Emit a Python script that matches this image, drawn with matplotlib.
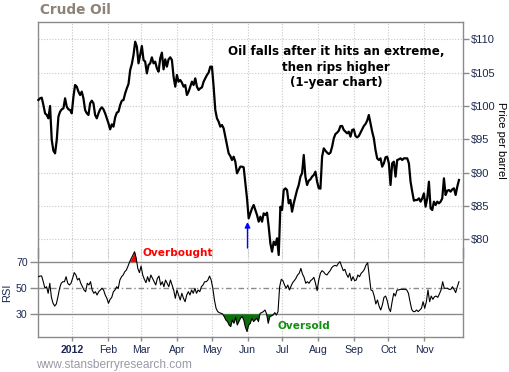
import matplotlib
matplotlib.use("Agg")
import matplotlib.pyplot as plt
import numpy as np
import pandas as pd

# ---------------- data ----------------
price = [
    100.9, 101.15, 101.25, 100.15, 98.9, 98.65, 98.15, 100.0, 94.9, 93.3, 92.9, 94.9, 98.4,
    99.15, 99.5, 99.65, 101.15, 99.9, 99.5, 99.4, 98.9, 101.4, 103.15, 102.9, 102.15, 101.65,
    102.15, 101.15, 99.4, 98.9, 98.65, 100.4, 100.8, 100.4, 98.65, 98.15, 98.9, 99.5, 99.8,
    99.5, 98.9, 98.15, 97.4, 96.5, 97.25, 96.9, 98.3, 99.0, 99.15, 100.15, 100.8, 100.9,
    101.9, 102.65, 103.3, 105.4, 106.3, 107.65, 109.65, 108.9, 106.4, 107.65, 109.0, 106.9,
    106.65, 104.9, 106.15, 106.4, 107.3, 106.4, 106.65, 105.65, 105.15, 107.15, 108.0, 105.5,
    107.0, 105.9, 107.0, 107.3, 106.9, 104.4, 102.9,
    104.65, 103.65, 103.9, 103.5, 102.9, 103.15, 101.65, 102.15, 102.9, 103.65, 103.15,
    104.15, 102.9, 102.4, 102.65, 102.8, 103.65, 104.15, 104.65, 105.0, 105.9, 105.9, 102.9,
    99.4, 98.15, 97.65, 96.9, 97.15, 96.65, 95.4, 94.15, 92.9, 92.5, 91.9, 92.4, 91.65, 89.9,
    90.4, 90.9, 90.9, 90.8, 88.4, 86.15, 83.15, 83.9, 84.65, 85.15, 84.4, 83.65, 82.65, 83.4,
    82.65, 83.9, 83.65, 84.0, 81.9, 79.4, 78.15, 79.65, 79.15, 80.15, 77.65, 84.9, 84.4, 87.4,
    87.65, 87.4, 85.4, 85.9, 84.15, 85.4, 86.4, 87.4, 88.15, 89.4, 89.9, 92.65, 89.4, 88.15,
    88.8, 89.0, 89.4, 89.65, 90.15,
    88.65, 87.65, 87.6, 92.4, 93.65, 93.3, 93.0, 92.8, 93.0, 93.9, 95.15, 95.8, 96.0, 96.3,
    97.0, 97.0, 96.4, 96.15, 95.9, 96.15, 95.4, 96.4, 96.5, 95.5, 95.3, 95.5, 96.0, 96.5,
    97.0, 97.3, 97.8, 98.65, 97.4, 96.15, 95.15, 93.4, 92.15, 91.9, 92.15, 90.9, 91.4, 92.3,
    92.4, 91.4, 88.15, 91.4, 91.65, 89.4, 91.9, 92.0, 92.15, 91.9, 92.15, 92.15, 92.15, 91.4,
    88.65, 87.15, 85.8, 85.9, 85.9, 86.15, 85.65, 86.15, 86.9, 84.9, 86.15, 88.65, 84.65,
    84.4, 85.65, 85.15, 85.65, 85.4, 85.65, 86.15, 89.15, 86.65, 87.3, 87.4, 87.15, 87.5,
    87.65, 86.65, 87.9, 88.9,
]

rsi = [
    58.6, 59.1, 59.1, 54.8, 49.8, 51.0, 46.0, 53.6, 42.9, 38.4, 36.3, 37.9, 43.4, 49.8, 53.6,
    54.8, 54.8, 58.6, 53.6, 52.3, 53.6, 57.4, 61.7, 59.9, 56.1, 57.4, 53.6, 51.0, 48.5, 47.2,
    53.6, 52.3, 54.8, 48.5, 46.0, 47.2, 44.7, 47.2, 48.5, 49.8, 48.5, 44.7, 42.2, 38.4, 41.4,
    42.9, 47.2, 48.5, 51.0, 49.8, 56.1, 58.6, 59.9, 62.4, 63.7, 66.7, 70.0, 72.5, 75.1, 77.6,
    72.5, 64.9, 61.7, 66.7, 59.9, 56.6, 54.1, 58.6, 54.8, 59.9, 57.4, 54.8, 52.3, 57.4, 59.1,
    52.3, 54.8, 51.0, 56.1, 53.6, 51.0, 56.1, 52.3, 48.5, 42.2, 48.5, 44.7, 40.9, 46.0, 42.2,
    39.6, 44.7, 47.2, 44.7, 48.5, 46.0, 49.8, 46.0, 48.5, 47.2, 51.0, 52.3, 54.8, 54.8, 56.1,
    59.1, 56.1, 49.8, 40.9, 34.6, 32.1, 31.3, 30.8, 30.3, 28.3, 25.7, 24.5, 21.9, 20.7, 25.7,
    23.2, 27.7, 21.9, 24.5, 27.0, 28.3, 25.7, 20.2, 16.9,
    21.9, 23.2, 27.0, 24.5, 25.7, 27.0, 24.5, 30.8, 31.3, 32.1, 33.3, 30.3, 23.2, 28.3, 28.8,
    29.5, 31.3, 29.5, 32.1, 51.0, 56.6, 55.6, 52.3, 49.8, 52.3, 48.5, 51.5, 54.1, 55.6, 57.4,
    59.9, 61.2, 64.9, 60.6, 58.1, 53.6, 54.8, 53.6, 55.6, 56.6, 58.1, 53.6, 48.0, 56.1, 61.2,
    63.2, 62.2, 60.6, 59.9, 61.7, 63.2, 65.5, 66.7, 67.2, 66.7, 68.7, 70.0, 66.7, 63.2, 64.2,
    60.6, 58.1, 61.2, 55.6, 58.6, 55.6, 56.1, 59.9, 58.6, 61.2, 62.4, 64.2, 67.5, 69.2, 58.6,
    48.5, 48.0, 43.9, 37.9, 40.9, 36.3, 33.3, 37.1, 42.9, 43.9, 40.4, 34.6, 32.1, 39.6, 46.0,
    43.9, 48.5, 48.5, 49.0, 49.0, 49.0, 49.0, 48.5, 46.0, 39.6, 33.8, 32.1, 32.1, 33.3, 32.1,
    33.3, 34.6, 39.6, 34.6, 39.6, 48.5, 39.6, 43.9, 41.4, 43.4, 43.9, 42.9, 45.5, 48.5, 54.8,
    49.8, 49.8, 49.8, 49.0, 49.0, 51.0, 49.0, 46.5, 51.0, 54.8,
]

start_date, end_date = "2011-12-03", "2012-12-01"
price_ticks = [80, 85, 90, 95, 100, 105, 110]
price_labels = ["$80", "$85", "$90", "$95", "$100", "$105", "$110"]
rsi_levels = [30, 50, 70]
month_ticks = ["2012-01-01", "2012-02-01", "2012-03-01", "2012-04-01", "2012-05-01",
               "2012-06-01", "2012-07-01", "2012-08-01", "2012-09-01", "2012-10-01",
               "2012-11-01"]
month_labels = ["2012", "Feb", "Mar", "Apr", "May", "Jun", "Jul", "Aug", "Sep", "Oct", "Nov"]
arrow_date = "2012-06-01"
arrow_from, arrow_to = 78.7, 82.6
overbought_date, oversold_date = "2012-03-02", "2012-06-27"

price_dates = pd.date_range(start_date, end_date, periods=len(price))
rsi_dates = pd.date_range(start_date, end_date, periods=len(rsi))
rsi_arr = np.array(rsi)

# ---------------- figure ----------------
W, H = 510, 372
fig = plt.figure(figsize=(W / 100, H / 100), dpi=100)
fig.patch.set_facecolor("white")

def frame(x0, y0, x1, y1):
    return [x0 / W, 1 - y1 / H, (x1 - x0) / W, (y1 - y0) / H]

GRAY = "#8a8a8a"
GRID = "#c8c8c8"
LABEL = "#1c2850"
tick_font = "Liberation Sans"
bold_font = "DejaVu Sans"

ax_r = fig.add_axes(frame(38, 248, 463, 337))
ax_p = fig.add_axes(frame(38, 22, 463, 258))
for a in (ax_p, ax_r):
    a.patch.set_alpha(0)
    for s in a.spines.values():
        s.set_color(GRAY)
        s.set_linewidth(1.0)

xlim = (pd.Timestamp("2011-12-02 16:00"), pd.Timestamp("2012-12-04 12:00"))
mt = pd.to_datetime(month_ticks)

# ---- price panel ----
ax_p.plot(price_dates, price, color="black", lw=1.6, solid_joinstyle="round", zorder=5,
          clip_on=False)
ax_p.set_xlim(*xlim)
ax_p.set_ylim(77.2, 112.6)
ax_p.spines["bottom"].set_visible(False)
ax_p.set_xticks(mt)
ax_p.tick_params(axis="x", length=0, labelbottom=False)
ax_p.yaxis.tick_right()
ax_p.set_yticks(price_ticks)
ax_p.set_yticklabels(price_labels, fontfamily=tick_font, fontsize=8, color=LABEL)
ax_p.tick_params(axis="y", length=4, width=1, color=GRAY, pad=2)
ax_p.grid(True, color=GRID, linestyle=(0, (1, 1.5)), lw=0.8)
ax_p.set_axisbelow(True)
ax_p.yaxis.set_label_position("right")
ax_p.set_ylabel("Price per barrel", rotation=270, fontfamily=tick_font, fontsize=8,
                labelpad=7, color="black")

ax_p.annotate("", xy=(pd.Timestamp(arrow_date), arrow_to),
              xytext=(pd.Timestamp(arrow_date), arrow_from),
              arrowprops=dict(arrowstyle="-|>", color="blue", lw=1.0, mutation_scale=8,
                              shrinkA=0, shrinkB=0), annotation_clip=False)

fig.text(336 / W, 1 - 45 / H,
         "Oil falls after it hits an extreme,\nthen rips higher\n(1-year chart)",
         ha="center", va="top", multialignment="center", fontfamily=bold_font,
         fontweight="bold", fontsize=8.6, linespacing=1.25)

fig.text(40 / W, 1 - 10 / H, "Crude Oil", ha="left", va="center", fontfamily=bold_font,
         fontweight="bold", fontsize=9.8, color="#8c8278")

# ---- RSI panel ----
ax_r.plot(rsi_dates, rsi_arr, color="black", lw=0.8, zorder=5)
ax_r.fill_between(rsi_dates, rsi_arr, 70, where=rsi_arr > 70, interpolate=True,
                  color="#ff0000", lw=0, zorder=4)
ax_r.fill_between(rsi_dates, rsi_arr, 30, where=rsi_arr < 30, interpolate=True,
                  color="#0b720b", lw=0, zorder=4)
ax_r.set_xlim(*xlim)
ax_r.set_ylim(12.8, 80.4)
ax_r.spines["top"].set_visible(False)
for lv in rsi_levels:
    ls = (0, (4, 2, 1, 2)) if lv == 50 else "-"
    ax_r.axhline(lv, color=GRAY, lw=1.0, ls=ls, zorder=3)
ax_r.set_yticks(rsi_levels)
ax_r.set_yticklabels([str(v) for v in rsi_levels], fontfamily=tick_font, fontsize=7.6,
                     color=LABEL)
ax_r.tick_params(axis="y", length=6, width=1, color=GRAY, pad=1.5)
ax_r.set_ylabel("RSI", fontfamily=tick_font, fontsize=8, color=LABEL, labelpad=3)

ax_r.set_xticks(mt)
ax_r.set_xticklabels(month_labels, fontfamily=tick_font, fontsize=7.6, color=LABEL)
ax_r.get_xticklabels()[0].set_fontweight("bold")
ax_r.tick_params(axis="x", length=3, width=1, color=GRAY, pad=3)
ax_r.grid(True, axis="x", color=GRID, linestyle=(0, (1, 1.5)), lw=0.8)
ax_r.set_axisbelow(True)

ax_r.text(pd.Timestamp(overbought_date), 76.5, "Overbought", ha="left", va="center",
          fontfamily=bold_font, fontweight="bold", fontsize=7.6, color="#ff0000", zorder=6)
ax_r.text(pd.Timestamp(oversold_date), 21.5, "Oversold", ha="left", va="center",
          fontfamily=bold_font, fontweight="bold", fontsize=7.6, color="#109010", zorder=6)

fig.text(36 / W, 1 - 365 / H, "www.stansberryresearch.com", ha="left", va="center",
         fontfamily=tick_font, fontsize=8.6, color="#9a9aa6")

fig.savefig("out.png", dpi=100, facecolor="white")
